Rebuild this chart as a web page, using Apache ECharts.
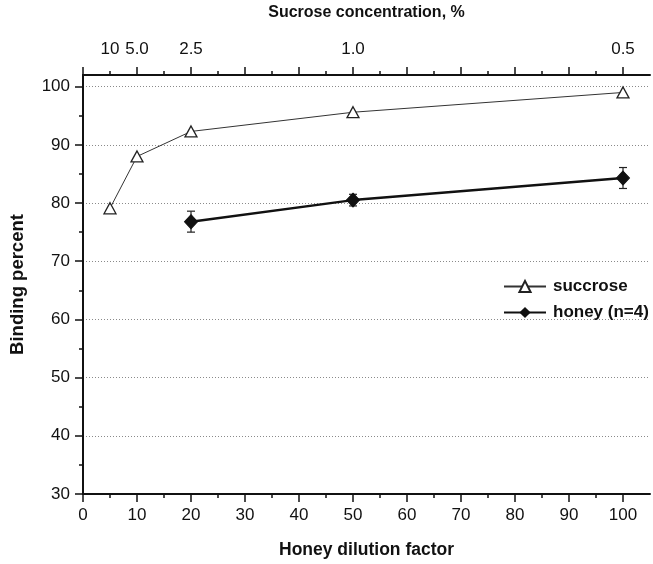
<!DOCTYPE html>
<html>
<head>
<meta charset="utf-8">
<script src="https://cdn.jsdelivr.net/npm/echarts@6/dist/echarts.min.js"></script>
<style>
  html, body { margin: 0; padding: 0; background: #fff; }
  #chart { width: 653px; height: 564px; }
</style>
</head>
<body>
<div id="chart"></div>
<script>
// honey dilution factor (x) and the matching sucrose concentration labels
const dilution = [5, 10, 20, 50, 100]
const concentrationLabels = ['10', '5.0', '2.5', '1.0', '0.5']
const sucroseBinding = [79.1, 88.0, 92.3, 95.6, 99.0]

const honeyDilution = [20, 50, 100]
const honeyBinding = [76.8, 80.5, 84.3]
const honeyError = [1.8, 1.0, 1.8]

const xMajor = [0, 10, 20, 30, 40, 50, 60, 70, 80, 90, 100]
const xMinor = [5, 15, 25, 35, 45, 55, 65, 75, 85, 95]
const yMajor = [30, 40, 50, 60, 70, 80, 90, 100]
const yMinor = [35, 45, 55, 65, 75, 85, 95]

const font = 'Liberation Sans Narrow, Arial Narrow, Liberation Sans, Arial, sans-serif'
const boldFont = 'Liberation Sans, Arial, sans-serif'

const myChart = echarts.init(document.getElementById('chart'))

const axisLine = { show: true, lineStyle: { color: '#111', width: 2 } }
const hidden = { show: false }

// plain x axis used only for its minor ticks
function tickAxis (position, values, len) {
  return {
    type: 'value',
    position: position,
    min: 0,
    max: 105,
    axisLine: hidden,
    axisTick: { show: true, length: len, customValues: values, lineStyle: { color: '#111', width: 1.5 } },
    axisLabel: hidden,
    splitLine: hidden
  }
}

const option = {
  animation: false,
  grid: { left: 78, right: 3, top: 75, bottom: 61 },
  legend: {
    orient: 'vertical',
    left: 498,
    top: 273,
    itemWidth: 42,
    itemHeight: 14,
    itemGap: 9,
    textStyle: { color: '#111', fontSize: 17, fontWeight: 'bold', fontFamily: boldFont, padding: [0, 0, 0, 2] },
    data: ['succrose', 'honey (n=4)']
  },
  xAxis: [
    {
      type: 'value',
      position: 'bottom',
      min: 0,
      max: 105,
      name: 'Honey dilution factor',
      nameLocation: 'middle',
      nameGap: 47,
      nameTextStyle: { color: '#111', fontSize: 17.5, fontWeight: 'bold', fontFamily: boldFont },
      axisLine: axisLine,
      axisTick: { show: true, length: 8, customValues: xMajor, lineStyle: { color: '#111', width: 1.5 } },
      axisLabel: { customValues: xMajor, margin: 13, color: '#111', fontSize: 17, fontFamily: font },
      splitLine: hidden
    },
    tickAxis('bottom', xMinor, 4),
    {
      type: 'value',
      position: 'top',
      min: 0,
      max: 105,
      name: 'Sucrose concentration, %',
      nameLocation: 'middle',
      nameGap: 54,
      nameTextStyle: { color: '#111', fontSize: 16, fontWeight: 'bold', fontFamily: boldFont },
      axisLine: axisLine,
      axisTick: { show: true, length: 8, customValues: xMajor, lineStyle: { color: '#111', width: 1.5 } },
      axisLabel: {
        customValues: dilution,
        margin: 17,
        color: '#111',
        fontSize: 17,
        fontFamily: font,
        formatter: function (v) {
          const i = dilution.indexOf(v)
          return i >= 0 ? concentrationLabels[i] : ''
        }
      },
      splitLine: hidden
    },
    tickAxis('top', xMinor, 4)
  ],
  yAxis: [
    {
      type: 'value',
      position: 'left',
      min: 30,
      max: 102,
      name: 'Binding percent',
      nameLocation: 'middle',
      nameGap: 56,
      nameTextStyle: { color: '#111', fontSize: 18.5, fontWeight: 'bold', fontFamily: boldFont },
      axisLine: axisLine,
      axisTick: { show: true, length: 8, customValues: yMajor, lineStyle: { color: '#111', width: 1.5 } },
      axisLabel: { customValues: yMajor, margin: 13, color: '#111', fontSize: 17, fontFamily: font },
      splitLine: {
        show: true,
        lineStyle: { color: '#8a8a8a', width: 1, type: [1, 2] }
      }
    },
    {
      type: 'value',
      position: 'left',
      min: 30,
      max: 102,
      axisLine: hidden,
      axisTick: { show: true, length: 4, customValues: yMinor, lineStyle: { color: '#111', width: 1.5 } },
      axisLabel: hidden,
      splitLine: hidden
    }
  ],
  series: [
    {
      name: 'succrose',
      type: 'line',
      data: dilution.map((x, i) => [x, sucroseBinding[i]]),
      symbol: 'triangle',
      symbolSize: [12, 11],
      lineStyle: { color: '#333', width: 1 },
      itemStyle: { color: '#fff', borderColor: '#222', borderWidth: 1.3 },
      z: 3
    },
    {
      name: 'honey (n=4)',
      type: 'line',
      data: honeyDilution.map((x, i) => [x, honeyBinding[i]]),
      symbol: 'diamond',
      symbolSize: [13, 14],
      lineStyle: { color: '#111', width: 2.5 },
      itemStyle: { color: '#111', borderColor: '#111' },
      z: 4
    },
    {
      name: 'honey error',
      type: 'custom',
      data: honeyDilution.map((x, i) => [x, honeyBinding[i] - honeyError[i], honeyBinding[i] + honeyError[i]]),
      renderItem: function (params, api) {
        const low = api.coord([api.value(0), api.value(1)])
        const high = api.coord([api.value(0), api.value(2)])
        const cap = 4
        const style = { stroke: '#222', lineWidth: 1.2 }
        return {
          type: 'group',
          children: [
            { type: 'line', shape: { x1: low[0], y1: low[1], x2: high[0], y2: high[1] }, style: style },
            { type: 'line', shape: { x1: low[0] - cap, y1: low[1], x2: low[0] + cap, y2: low[1] }, style: style },
            { type: 'line', shape: { x1: high[0] - cap, y1: high[1], x2: high[0] + cap, y2: high[1] }, style: style }
          ]
        }
      },
      z: 2
    }
  ]
}

myChart.setOption(option)
</script>
</body>
</html>
